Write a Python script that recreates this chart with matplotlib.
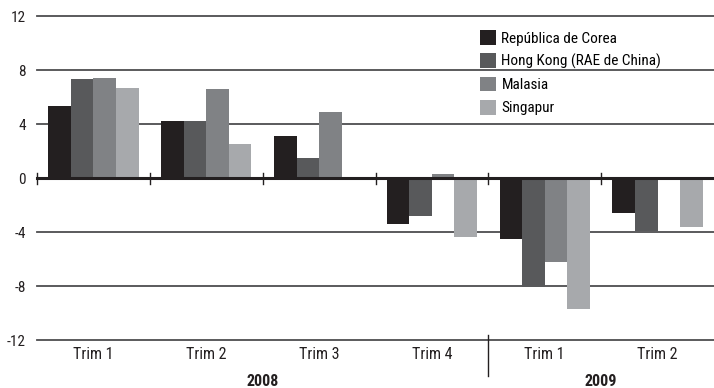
import matplotlib
matplotlib.use("Agg")
import matplotlib.pyplot as plt
from matplotlib.patches import Patch
from matplotlib import font_manager

# condensed face if available, otherwise a plain sans
_names = {f.name for f in font_manager.fontManager.ttflist}
FONT = next((n for n in ["Liberation Sans Narrow", "Roboto Condensed", "Roboto", "DejaVu Sans"]
             if n in _names), "DejaVu Sans")
plt.rcParams["font.family"] = [FONT, "DejaVu Sans"]

quarters = ["Trim 1", "Trim 2", "Trim 3", "Trim 4", "Trim 1", "Trim 2"]
years = ["2008", "2009"]
series = ["República de Corea", "Hong Kong (RAE de China)", "Malasia", "Singapur"]

corea = [5.3, 4.2, 3.1, -3.4, -4.5, -2.6]
hong_kong = [7.3, 4.2, 1.5, -2.8, -8.1, -3.9]
malasia = [7.4, 6.6, 4.9, 0.3, -6.2, 0.0]
singapur = [6.7, 2.5, 0.0, -4.4, -9.7, -3.6]

colors = ["#231f20", "#58595b", "#808285", "#a7a9ac"]

fig = plt.figure(figsize=(7.14, 3.88), dpi=100)
ax = fig.add_axes([37 / 714, 1 - 340 / 388, 1 - 37 / 714, 324 / 388])

# horizontal rules
for y in [-12, -8, -4, 4, 8, 12]:
    ax.axhline(y, color="#4d4d4f", lw=1.3, zorder=1, clip_on=False)
ax.axhline(0, color="#231f20", lw=2.2, zorder=3, clip_on=False)

width = 0.2
offsets = [-0.3, -0.1, 0.1, 0.3]
for vals, off, col, name in zip([corea, hong_kong, malasia, singapur], offsets, colors, series):
    xs = [i + 0.5 + off for i in range(len(vals))]
    ax.bar(xs, vals, width=width, color=col, zorder=2, label=name)

ax.set_xlim(0, 6)
ax.set_ylim(-12, 12)

# small ticks at group boundaries on the zero line
for x in range(6):
    ax.plot([x, x], [-0.45, 0.35], color="#231f20", lw=1, zorder=4, clip_on=False)

# separator between years
ax.plot([4, 4], [-11.6, -14.7], color="#231f20", lw=1, clip_on=False)

for s in ax.spines.values():
    s.set_visible(False)

ax.set_yticks([-12, -8, -4, 0, 4, 8, 12])
ax.set_yticklabels(["-12", "-8", "-4", "0", "4", "8", "12"], fontsize=11, color="#231f20")
ax.tick_params(axis="y", length=0, pad=8)

ax.set_xticks([i + 0.5 for i in range(6)])
ax.set_xticklabels(quarters, fontsize=11.5, color="#231f20")
ax.tick_params(axis="x", length=0, pad=5)

ax.text(2.0, -15.1, years[0], ha="center", va="center", fontsize=11.5,
        fontweight="bold", color="#231f20")
ax.text(5.0, -15.1, years[1], ha="center", va="center", fontsize=11.5,
        fontweight="bold", color="#231f20")

handles = [Patch(facecolor=c, edgecolor="none") for c in colors]
fig.legend(handles, series, loc="upper left", bbox_to_anchor=(480 / 714, 1 - 30 / 388),
           frameon=False, fontsize=11, handlelength=1.05, handleheight=1.1,
           handletextpad=0.35, labelspacing=0.5, borderpad=0, borderaxespad=0)

fig.savefig("out.png", dpi=100)
